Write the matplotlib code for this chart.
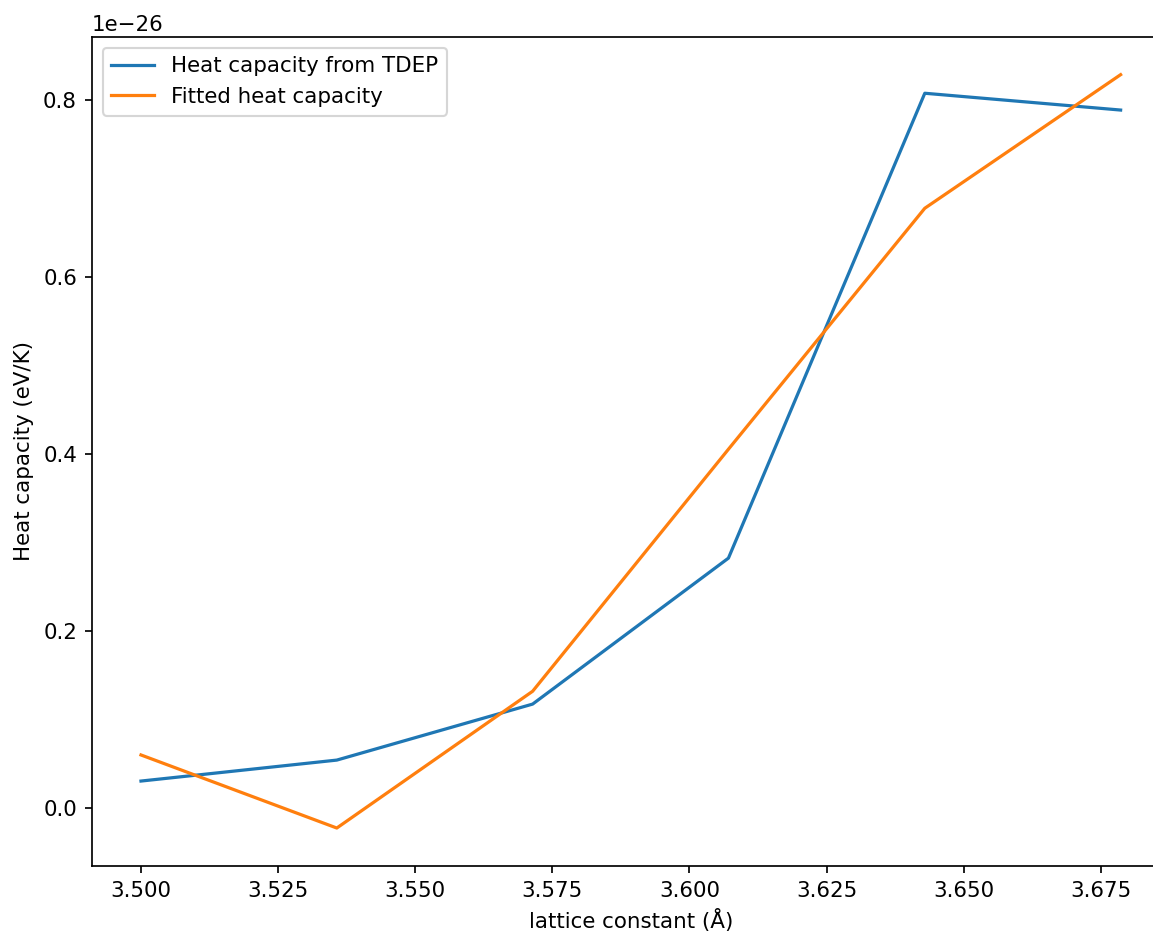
import numpy as np
import matplotlib
matplotlib.use("Agg")
import matplotlib.pyplot as plt

# lattice constants (Å)
lattice = [3.5000, 3.5357, 3.5714, 3.6071, 3.6429, 3.6786]
# heat capacity values (eV/K)
cv_tdep = [0.0305e-26, 0.0542e-26, 0.1175e-26, 0.2825e-26, 0.808e-26, 0.789e-26]
cv_fit = [0.060e-26, -0.0226e-26, 0.132e-26, 0.4056e-26, 0.678e-26, 0.829e-26]

DPI = 154
W, H = 1153, 934
fig = plt.figure(figsize=(W / DPI, H / DPI), dpi=DPI)
ax = fig.add_axes([92 / W, (H - 865.7) / H,
                   (1169.6 - 92) / W, (865.7 - 37) / H])

ax.plot(lattice, cv_tdep, label="Heat capacity from TDEP")
ax.plot(lattice, cv_fit, label="Fitted heat capacity")
ax.set_xlabel("lattice constant (Å)")
ax.set_ylabel("Heat capacity (eV/K)")
ax.yaxis.get_major_formatter().set_powerlimits((-26, -26))
ax.legend(loc="upper left")

fig.savefig("out.png", dpi=DPI)
